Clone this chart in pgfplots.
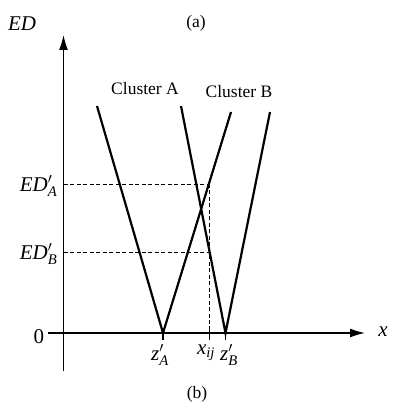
\documentclass[border=0pt]{standalone}
\usepackage{amsmath}
\usepackage{fontspec}
\setmainfont{Liberation Serif}
\usepackage{pgfplots}
\pgfplotsset{compat=1.18}
\usetikzlibrary{arrows.meta}

\newcommand{\lbl}{\fontsize{17.5}{21}\selectfont}
\newcommand{\sym}{\fontsize{21}{25}\selectfont}

\begin{document}
\begin{tikzpicture}
\begin{axis}[
  scale only axis,
  width=317pt, height=336pt,
  xmin=-15.5, xmax=301.5,
  ymin=-38, ymax=298,
  axis lines=middle,
  axis line style={line width=1.4pt, -{Latex[length=15pt,width=9pt]}},
  xtick=\empty, ytick=\empty,
  clip=false,
]
% corners of the figure
\coordinate (bl) at (axis cs:-63.5,-70);
\coordinate (tr) at (axis cs:329.5,333);

% distance profiles of the two clusters
\addplot[black, line width=2.2pt] coordinates {(33.5,227) (99.5,0) (167.5,221)};
\addplot[black, line width=2.2pt] coordinates {(117.5,227) (162,0) (206.5,221)};

% distances of point x_ij to both clusters
\addplot[black, line width=0.7pt, dash pattern=on 4pt off 2.5pt] coordinates {(0,149) (146,149)};
\addplot[black, line width=0.7pt, dash pattern=on 4pt off 2.5pt] coordinates {(0,81) (146,81)};
\addplot[black, line width=0.7pt, dash pattern=on 4pt off 2.5pt] coordinates {(146,149) (146,0)};

% tick marks on the x axis
\addplot[black, line width=1.2pt] coordinates {(146,7) (146,-7)};
\addplot[black, line width=1.2pt] coordinates {(99.5,0) (99.5,-7)};
\addplot[black, line width=1.2pt] coordinates {(162,0) (162,-7)};

% labels
\node[font=\sym, inner sep=0pt] at (axis cs:-41.5,309) {\textit{ED}};
\node[font=\lbl, inner sep=0pt] at (axis cs:132.5,310) {(a)};
\node[font=\lbl, inner sep=0pt] at (axis cs:133.5,-61) {(b)};
\node[font=\lbl, anchor=base, inner sep=0pt] at (axis cs:81.5,238.5) {Cluster A};
\node[font=\lbl, anchor=base, inner sep=0pt] at (axis cs:175.5,235.7) {Cluster B};
\node[font=\sym, anchor=east, inner sep=0pt] at (axis cs:-6,147) {$\textit{ED}'_{\textit{A}}$};
\node[font=\sym, anchor=east, inner sep=0pt] at (axis cs:-6,79) {$\textit{ED}'_{\textit{B}}$};
\node[font=\sym, inner sep=0pt] at (axis cs:-24.5,-4) {0};
\node[font=\sym, inner sep=0pt] at (axis cs:319.5,1) {\textit{x}};
\node[font=\sym, inner sep=0pt] at (axis cs:96.5,-22) {$\textit{z}'_{\textit{A}}$};
\node[font=\sym, inner sep=0pt] at (axis cs:142.5,-20) {$\textit{x}_{\textit{ij}}$};
\node[font=\sym, inner sep=0pt] at (axis cs:165.5,-22) {$\textit{z}'_{\textit{B}}$};
\end{axis}
\pgfresetboundingbox
\path[use as bounding box] (bl) rectangle (tr);
\end{tikzpicture}
\end{document}
